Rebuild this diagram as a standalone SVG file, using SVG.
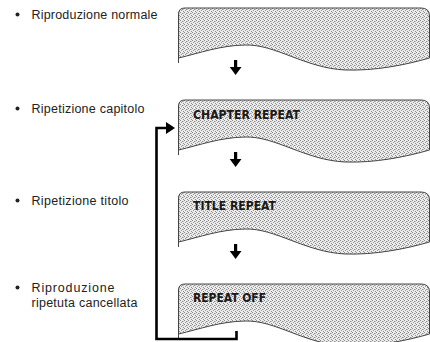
<svg xmlns="http://www.w3.org/2000/svg" width="430" height="342" viewBox="0 0 430 342">
<defs>
<pattern id="stip" width="4" height="4" patternUnits="userSpaceOnUse">
<rect width="4" height="4" fill="#ececec"/>
<rect x="0" y="0" width="1" height="1" fill="#8c8c8c"/>
<rect x="2" y="1" width="1" height="1" fill="#8c8c8c"/>
<rect x="1" y="2" width="1" height="1" fill="#9a9a9a"/>
<rect x="3" y="3" width="1" height="1" fill="#8c8c8c"/>
<rect x="3" y="1" width="1" height="1" fill="#c0c0c0"/>
</pattern>
<path id="panel" d="M178.5,55 V6 Q178.5,0 185,0 H421 Q429.5,0 429.5,8 V50 C405,57 375,63 345,62 C305,60 275,36 245,37 C220,37.5 200,45 178.5,50 Z"/>
<path id="darr" d="M234,52 H237.2 V59 H241.5 L235.6,67 L229.7,59 H234 Z"/>
</defs>
<style>
.pn{fill:url(#stip);stroke:#444;stroke-width:1}
.lbl{font-family:"Liberation Sans",Arial,sans-serif;font-size:12.5px;fill:#222}
.pt{font-family:"DejaVu Sans Condensed","DejaVu Sans",sans-serif;font-weight:bold;font-size:12px;fill:#1a1a1a}
.ar{fill:#000}
.ln{fill:none;stroke:#000;stroke-width:2.6}
</style>
<g id="labels">
<circle cx="17.5" cy="14.5" r="2" fill="#222"/>
<text class="lbl" x="31.5" y="19" textLength="126" lengthAdjust="spacing">Riproduzione normale</text>
<circle cx="17.5" cy="108.5" r="2" fill="#222"/>
<text class="lbl" x="31.5" y="113" textLength="113" lengthAdjust="spacing">Ripetizione capitolo</text>
<circle cx="17.5" cy="200.5" r="2" fill="#222"/>
<text class="lbl" x="31.5" y="205" textLength="97" lengthAdjust="spacing">Ripetizione titolo</text>
<circle cx="17.5" cy="287.5" r="2" fill="#222"/>
<text class="lbl" x="31.5" y="292" textLength="83" lengthAdjust="spacing">Riproduzione</text>
<text class="lbl" x="31.5" y="307" textLength="106" lengthAdjust="spacing">ripetuta cancellata</text>
</g>
<g id="node-normal" transform="translate(0,8)">
<use href="#panel" class="pn"/>
</g>
<g id="node-chapter" transform="translate(0,100)">
<use href="#panel" class="pn"/>
<text class="pt" x="193" y="19" textLength="107" lengthAdjust="spacingAndGlyphs">CHAPTER REPEAT</text>
</g>
<g id="node-title" transform="translate(0,192)">
<use href="#panel" class="pn"/>
<text class="pt" x="193" y="17.5" textLength="83" lengthAdjust="spacingAndGlyphs">TITLE REPEAT</text>
</g>
<g id="node-off" transform="translate(0,284)">
<use href="#panel" class="pn"/>
<text class="pt" x="193" y="18" textLength="73" lengthAdjust="spacingAndGlyphs">REPEAT OFF</text>
</g>
<g id="connectors">
<use href="#darr" class="ar" transform="translate(0,8)"/>
<use href="#darr" class="ar" transform="translate(0,100)"/>
<use href="#darr" class="ar" transform="translate(0,192)"/>
<path class="ln" d="M236.5,331 V339 H156.5 V128 H168"/>
<path class="ar" d="M166,122 L175,128 L166,134 Z"/>
</g>
</svg>
